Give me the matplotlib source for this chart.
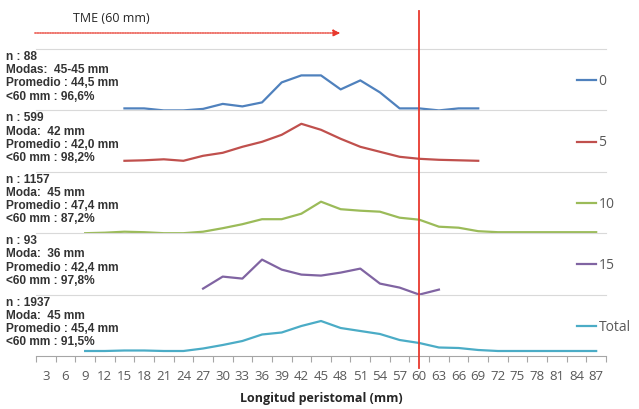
import matplotlib
matplotlib.use("Agg")
import matplotlib.pyplot as plt
import matplotlib.transforms as mtransforms
from matplotlib.lines import Line2D

W, H = 639, 409

# categorias del eje x (longitud peristomal, mm)
categories = list(range(3, 88, 3))

# frecuencias relativas por panel (unidades arbitrarias)
x_0 = [15, 18, 21, 24, 27, 30, 33, 36, 39, 42, 45, 48, 51, 54, 57, 60, 63, 66, 69]
y_0 = [2, 2, 0, 0, 1.5, 6.5, 4, 8, 28, 35, 35, 21, 30, 18, 2, 2, 0, 2, 2]

x_5 = [15, 18, 21, 24, 27, 30, 33, 36, 39, 42, 45, 48, 51, 54, 57, 60, 63, 66, 69]
y_5 = [11, 11.5, 12.5, 11, 16, 19, 25, 30, 37, 48, 42, 33, 25, 20, 15, 13, 12, 11.5, 11]

x_10 = list(range(9, 88, 3))
y_10 = [0, 0.5, 1.5, 1, 0, 0, 1.5, 5, 9, 14, 14, 19.5, 31.5, 24, 22.5, 21.5, 15.5,
        13.5, 6.5, 5.5, 2, 1, 1, 1, 1, 1, 1]

x_15 = [27, 30, 33, 36, 39, 42, 45, 48, 51, 54, 57, 60, 63]
y_15 = [6, 18, 16, 35, 25, 20, 19, 22, 26, 11, 7, 0, 5]

x_tot = list(range(9, 88, 3))
y_tot = [5, 5, 5.5, 5.5, 5, 5, 7.5, 11, 15, 21.5, 23.5, 30, 35, 28, 25, 22, 16,
         13, 8.5, 8, 6, 5, 5, 5, 5, 5, 5]

labels = ["0", "5", "10", "15", "Total"]
colors = ["#4F81BD", "#C0504D", "#9BBB59", "#8064A2", "#4BACC6"]

stats = [
    ["n : 88", "Modas:  45-45 mm", "Promedio : 44,5 mm", "<60 mm : 96,6%"],
    ["n : 599", "Moda:  42 mm", "Promedio : 42,0 mm", "<60 mm : 98,2%"],
    ["n : 1157", "Moda:  45 mm", "Promedio : 47,4 mm", "<60 mm : 87,2%"],
    ["n : 93", "Moda:  36 mm", "Promedio : 42,4 mm", "<60 mm : 97,8%"],
    ["n : 1937", "Moda:  45 mm", "Promedio : 45,4 mm", "<60 mm : 91,5%"],
]

TME = 60

series = [(x_0, y_0), (x_5, y_5), (x_10, y_10), (x_15, y_15), (x_tot, y_tot)]


def fx(px):
    return px / W


def fy(py):
    return 1 - py / H


fig = plt.figure(figsize=(W / 100, H / 100), dpi=100)

left, right = 36, 606
top0, panel_h = 49, 61.4
grid_col = "#D9D9D9"

axes = []
for i, ((xs, ys), lab, col) in enumerate(zip(series, labels, colors)):
    ptop = top0 + i * panel_h
    ax = fig.add_axes([fx(left), fy(ptop + panel_h), (right - left) / W, panel_h / H])
    ax.plot(xs, ys, color=col, lw=1.6, label=lab, solid_joinstyle="round")
    ax.set_xlim(categories[0] - 1.5, categories[-1] + 1.5)
    ax.set_ylim(0, panel_h)
    ax.set_yticks([])
    for s in ["left", "right", "bottom"]:
        ax.spines[s].set_visible(False)
    ax.spines["top"].set_color(grid_col)
    ax.spines["top"].set_linewidth(0.8)
    ax.set_xticks([])
    ax.patch.set_alpha(0)
    leg = ax.legend(loc="center left", bbox_to_anchor=(0.949, 0.47), frameon=False,
                    handlelength=1.4, handletextpad=0.15, borderpad=0, borderaxespad=0,
                    prop={"family": "Open Sans", "size": 10})
    for t in leg.get_texts():
        t.set_color("#595959")

    for j, line in enumerate(stats[i]):
        fig.text(fx(6), fy(ptop + 8 + j * 13.2), line, ha="left", va="center",
                 fontsize=8.6, family="Liberation Sans", fontweight="bold",
                 color="#333333")
    axes.append(ax)

# eje x en el ultimo panel
ax = axes[-1]
ax.spines["bottom"].set_visible(True)
ax.spines["bottom"].set_color("#A6A6A6")
ax.spines["bottom"].set_linewidth(0.8)
bounds = [c - 1.5 for c in categories] + [categories[-1] + 1.5]
ax.set_xticks(bounds)
ax.set_xticklabels([])
ax.set_xticks(categories, minor=True)
ax.set_xticklabels([str(c) for c in categories], minor=True,
                   fontfamily="Open Sans", fontsize=9.5, color="#595959")
ax.tick_params(axis="x", which="major", length=4, width=0.8, color="#A6A6A6",
               direction="out")
ax.tick_params(axis="x", which="minor", length=0, pad=10)
ax.set_xlabel("Longitud peristomal (mm)", fontfamily="Open Sans", fontsize=9,
              fontweight="bold", color="#262626")
ax.xaxis.set_label_coords(0.5, -0.58)

# linea roja TME
trans = mtransforms.blended_transform_factory(ax.transData, fig.transFigure)
fig.add_artist(Line2D([TME, TME], [fy(11), fy(368)], transform=trans,
                      color="#E8392E", lw=1.3))

# flecha punteada
fig.text(fx(73), fy(18), "TME (60 mm)", ha="left", va="center",
         fontfamily="Open Sans", fontsize=9, color="#262626")
fig.add_artist(matplotlib.patches.FancyArrowPatch(
    (fx(32), fy(33)), (fx(343), fy(33)), transform=fig.transFigure,
    arrowstyle="-|>,head_length=4,head_width=2", linestyle=(0, (1, 0.8)),
    color="#E8392E", lw=1.0, mutation_scale=1))

fig.savefig("out.png", dpi=100)
